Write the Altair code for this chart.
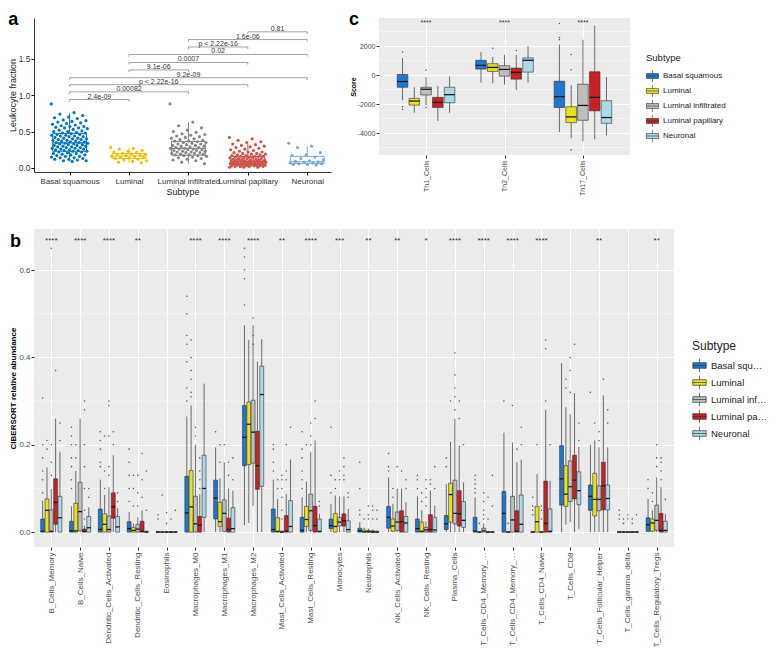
import altair as alt
import pandas as pd

SUBTYPES = ["Basal squamous", "Luminal", "Luminal infiltrated", "Luminal papillary", "Neuronal"]
FILL_COLORS = ["#1F77D0", "#E8E21E", "#BEBEBE", "#C82027", "#ADD8E6"]
JCO_COLORS = ["#0073C2", "#EFC000", "#868686", "#CD534C", "#7AA6DC"]

# ---------------- panel a : leukocyte fraction ----------------
A_LO = [0.09, 0.07, 0.06, 0.01, 0.04]
A_Q1 = [0.23, 0.13, 0.175, 0.05, 0.06]
A_MED = [0.345, 0.165, 0.27, 0.09, 0.085]
A_Q3 = [0.475, 0.20, 0.365, 0.16, 0.16]
A_HI = [0.75, 0.28, 0.63, 0.33, 0.30]

A_PTS_BASAL = [0.88, 0.76, 0.74, 0.72, 0.70, 0.69, 0.68, 0.66, 0.65, 0.64, 0.63, 0.62, 0.61, 0.60,
               0.59, 0.58, 0.57, 0.57, 0.56, 0.55, 0.55, 0.54, 0.53, 0.52, 0.51, 0.50, 0.50, 0.49,
               0.48, 0.48, 0.47, 0.46, 0.46, 0.45, 0.45, 0.44, 0.44, 0.43, 0.43, 0.42, 0.41, 0.41,
               0.40, 0.40, 0.39, 0.39, 0.38, 0.38, 0.37, 0.37, 0.36, 0.36, 0.35, 0.35, 0.34, 0.34,
               0.33, 0.33, 0.32, 0.32, 0.31, 0.31, 0.30, 0.30, 0.29, 0.29, 0.28, 0.28, 0.27, 0.27,
               0.26, 0.26, 0.25, 0.25, 0.24, 0.24, 0.23, 0.23, 0.22, 0.22, 0.21, 0.20, 0.20, 0.19,
               0.18, 0.18, 0.17, 0.16, 0.16, 0.15, 0.14, 0.14, 0.13, 0.12, 0.12, 0.11, 0.10, 0.10, 0.09]
A_PTS_LUMINAL = [0.28, 0.27, 0.26, 0.24, 0.23, 0.22, 0.21, 0.20, 0.19, 0.19, 0.18, 0.18, 0.17,
                 0.16, 0.16, 0.15, 0.15, 0.14, 0.13, 0.12, 0.11, 0.10, 0.09, 0.08, 0.07]
A_PTS_LUM_INF = [0.88, 0.63, 0.58, 0.55, 0.52, 0.50, 0.49, 0.47, 0.46, 0.45, 0.44, 0.43, 0.42, 0.41,
                 0.40, 0.39, 0.38, 0.37, 0.37, 0.36, 0.35, 0.35, 0.34, 0.33, 0.33, 0.32, 0.31, 0.31,
                 0.30, 0.30, 0.29, 0.28, 0.28, 0.27, 0.27, 0.26, 0.26, 0.25, 0.25, 0.24, 0.24, 0.23,
                 0.23, 0.22, 0.22, 0.21, 0.21, 0.20, 0.20, 0.19, 0.19, 0.18, 0.18, 0.17, 0.17, 0.16,
                 0.15, 0.14, 0.13, 0.12, 0.11, 0.10, 0.08, 0.06]
A_PTS_LUM_PAP = [0.42, 0.40, 0.38, 0.36, 0.35, 0.33, 0.32, 0.31, 0.30, 0.29, 0.28, 0.27, 0.26, 0.25,
                 0.24, 0.23, 0.22, 0.22, 0.21, 0.20, 0.20, 0.19, 0.19, 0.18, 0.18, 0.17, 0.17, 0.16,
                 0.16, 0.16, 0.15, 0.15, 0.15, 0.14, 0.14, 0.14, 0.13, 0.13, 0.13, 0.12, 0.12, 0.12,
                 0.11, 0.11, 0.11, 0.11, 0.10, 0.10, 0.10, 0.10, 0.09, 0.09, 0.09, 0.09, 0.09, 0.08,
                 0.08, 0.08, 0.08, 0.07, 0.07, 0.07, 0.07, 0.07, 0.06, 0.06, 0.06, 0.06, 0.06, 0.05,
                 0.05, 0.05, 0.05, 0.05, 0.04, 0.04, 0.04, 0.04, 0.04, 0.03, 0.03, 0.03, 0.03, 0.02,
                 0.02, 0.02, 0.02, 0.01, 0.01, 0.01]
A_PTS_NEURONAL = [0.34, 0.30, 0.28, 0.21, 0.18, 0.17, 0.15, 0.13, 0.11, 0.10, 0.09, 0.085, 0.08,
                  0.07, 0.07, 0.06, 0.06, 0.05, 0.05, 0.04]

A_PAIR_FROM = [0, 0, 0, 0, 1, 1, 1, 2, 2, 3]
A_PAIR_TO = [1, 2, 3, 4, 2, 3, 4, 3, 4, 4]
A_PAIR_Y = [0.94, 1.046, 1.144, 1.24, 1.347, 1.449, 1.56, 1.662, 1.764, 1.87]
A_PAIR_LABEL = ["2.4e-09", "0.00082", "p < 2.22e-16", "9.2e-09", "9.1e-06", "0.0007", "0.02",
                "p < 2.22e-16", "1.6e-06", "0.81"]

# ---------------- panel b : CIBERSORT ----------------
B_CELLS = ["B_Cells_Memory", "B_Cells_Naive", "Dendritic_Cells_Activated", "Dendritic_Cells_Resting",
           "Eosinophils", "Macrophages_M0", "Macrophages_M1", "Macrophages_M2", "Mast_Cells_Activated",
           "Mast_Cells_Resting", "Monocytes", "Neutrophils", "NK_Cells_Activated", "NK_Cells_Resting",
           "Plasma_Cells", "T_Cells_CD4_Memory_Activated", "T_Cells_CD4_Memory_Resting",
           "T_Cells_CD4_Naive", "T_Cells_CD8", "T_Cells_Follicular_Helper", "T_Cells_gamma_delta",
           "T_Cells_Regulatory_Tregs"]
B_SIG = ["****", "****", "****", "**", "", "****", "****", "****", "**", "****", "***", "**", "**", "*",
         "****", "****", "****", "****", "", "**", "", "**"]

# (lower whisker, q1, median, q3, upper whisker) per cell type
B_BASAL = [(0, 0, 0.002, 0.030, 0.072), (0, 0, 0.003, 0.025, 0.059), (0, 0, 0.006, 0.053, 0.120),
           (0, 0, 0.008, 0.024, 0.046), (0, 0, 0, 0.001, 0.003), (0, 0, 0.044, 0.128, 0.265),
           (0, 0.030, 0.078, 0.119, 0.194), (0.016, 0.152, 0.217, 0.290, 0.474),
           (0, 0, 0.006, 0.053, 0.120), (0, 0, 0.004, 0.034, 0.080), (0, 0.008, 0.015, 0.030, 0.065),
           (0, 0, 0.003, 0.009, 0.023), (0, 0.009, 0.034, 0.059, 0.125), (0, 0, 0.008, 0.030, 0.082),
           (0, 0.006, 0.019, 0.038, 0.110), (0, 0, 0.002, 0.034, 0.080), (0, 0, 0.043, 0.093, 0.228),
           (0, 0, 0, 0.001, 0.002), (0, 0.062, 0.122, 0.198, 0.387), (0, 0.050, 0.082, 0.108, 0.200),
           (0, 0, 0, 0.001, 0.002), (0, 0.002, 0.017, 0.033, 0.076)]
B_LUMINAL = [(0, 0, 0.050, 0.076, 0.148), (0, 0, 0.003, 0.066, 0.140), (0, 0, 0.018, 0.042, 0.085),
             (0, 0, 0.004, 0.011, 0.020), (0, 0, 0, 0.001, 0.002), (0, 0, 0.058, 0.141, 0.290),
             (0, 0.013, 0.024, 0.068, 0.123), (0.021, 0.155, 0.247, 0.298, 0.440),
             (0, 0, 0.002, 0.033, 0.076), (0, 0.013, 0.029, 0.059, 0.116), (0, 0, 0.013, 0.043, 0.084),
             (0, 0, 0.001, 0.005, 0.010), (0, 0.002, 0.014, 0.030, 0.065), (0, 0, 0.002, 0.023, 0.050),
             (0, 0.023, 0.086, 0.112, 0.207), (0, 0, 0, 0.001, 0.002), (0, 0, 0, 0.001, 0.002),
             (0, 0, 0.024, 0.059, 0.133), (0.017, 0.059, 0.087, 0.152, 0.286),
             (0, 0.037, 0.075, 0.135, 0.210), (0, 0, 0, 0.001, 0.002), (0, 0.002, 0.021, 0.030, 0.050)]
B_LUM_INF = [(0, 0, 0.002, 0.051, 0.099), (0, 0.003, 0.047, 0.114, 0.260), (0, 0, 0.006, 0.037, 0.103),
             (0, 0, 0.007, 0.018, 0.034), (0, 0, 0, 0.001, 0.003), (0, 0, 0.019, 0.082, 0.200),
             (0, 0.002, 0.043, 0.074, 0.160), (0.060, 0.158, 0.229, 0.302, 0.474),
             (0, 0, 0, 0.002, 0.005), (0, 0.004, 0.049, 0.087, 0.183), (0, 0.014, 0.023, 0.034, 0.082),
             (0, 0, 0.001, 0.004, 0.008), (0, 0.004, 0.023, 0.046, 0.100), (0, 0, 0.005, 0.011, 0.025),
             (0, 0.019, 0.043, 0.119, 0.260), (0, 0, 0.003, 0.009, 0.020), (0, 0, 0.028, 0.082, 0.205),
             (0, 0, 0, 0.001, 0.002), (0.023, 0.070, 0.104, 0.163, 0.270),
             (0, 0.049, 0.075, 0.106, 0.194), (0, 0, 0, 0.001, 0.002), (0, 0.004, 0.027, 0.062, 0.125)]
B_LUM_PAP = [(0, 0.018, 0.068, 0.122, 0.260), (0, 0, 0.002, 0.007, 0.015), (0, 0.032, 0.058, 0.090, 0.176),
             (0, 0, 0.002, 0.025, 0.050), (0, 0, 0, 0.001, 0.002), (0, 0, 0.016, 0.036, 0.087),
             (0, 0, 0.006, 0.032, 0.100), (0, 0.098, 0.152, 0.231, 0.390),
             (0, 0, 0.002, 0.038, 0.087), (0, 0, 0.015, 0.059, 0.210), (0, 0.014, 0.026, 0.042, 0.082),
             (0, 0, 0, 0.003, 0.006), (0, 0, 0.024, 0.049, 0.100), (0, 0, 0.006, 0.040, 0.095),
             (0, 0.014, 0.042, 0.095, 0.198), (0, 0, 0, 0.001, 0.002), (0, 0, 0.002, 0.049, 0.160),
             (0, 0, 0.020, 0.117, 0.280), (0, 0.076, 0.119, 0.176, 0.318),
             (0, 0.051, 0.106, 0.160, 0.313), (0, 0, 0, 0.001, 0.002), (0, 0, 0.004, 0.043, 0.103)]
B_NEURONAL = [(0, 0, 0.033, 0.082, 0.184), (0, 0, 0.010, 0.036, 0.057), (0, 0, 0.012, 0.036, 0.055),
              (0, 0, 0, 0.002, 0.004), (0, 0, 0, 0.001, 0.002), (0, 0.034, 0.100, 0.176, 0.340),
              (0, 0, 0.008, 0.056, 0.095), (0, 0.105, 0.315, 0.380, 0.442),
              (0, 0, 0.013, 0.072, 0.166), (0, 0, 0.002, 0.030, 0.042), (0, 0, 0.006, 0.026, 0.053),
              (0, 0, 0, 0.002, 0.004), (0, 0, 0.021, 0.036, 0.068), (0, 0, 0.005, 0.034, 0.061),
              (0, 0.011, 0.027, 0.070, 0.114), (0, 0, 0, 0.001, 0.002), (0, 0, 0.018, 0.085, 0.166),
              (0, 0, 0.002, 0.053, 0.118), (0.007, 0.063, 0.095, 0.138, 0.195),
              (0, 0.051, 0.077, 0.108, 0.194), (0, 0, 0, 0.001, 0.002), (0, 0, 0.004, 0.025, 0.042)]

# outliers: (cell index, subtype index, value)
B_OUTLIERS = [
    (0, 0, 0.307), (0, 0, 0.20), (0, 0, 0.17), (0, 0, 0.14), (0, 0, 0.12), (0, 0, 0.09),
    (0, 1, 0.21), (0, 1, 0.19), (0, 2, 0.65), (0, 2, 0.20), (0, 2, 0.16), (0, 2, 0.13),
    (0, 3, 0.37), (0, 4, 0.25), (0, 4, 0.21),
    (1, 0, 0.24), (1, 0, 0.22), (1, 0, 0.20), (1, 0, 0.17), (1, 0, 0.15), (1, 0, 0.12), (1, 0, 0.10),
    (1, 1, 0.20), (1, 1, 0.17), (1, 3, 0.30), (1, 3, 0.28), (1, 3, 0.20), (1, 3, 0.15), (1, 3, 0.10),
    (1, 3, 0.05), (1, 3, 0.03), (1, 4, 0.10), (1, 4, 0.08),
    (2, 0, 0.23), (2, 0, 0.21), (2, 0, 0.19), (2, 0, 0.16), (2, 0, 0.15), (2, 1, 0.22), (2, 1, 0.14),
    (2, 1, 0.10), (2, 2, 0.30), (2, 2, 0.29), (2, 2, 0.22), (2, 2, 0.15), (2, 2, 0.13),
    (2, 3, 0.23), (2, 3, 0.20), (2, 4, 0.09), (2, 4, 0.07),
    (3, 0, 0.19), (3, 0, 0.16), (3, 0, 0.13), (3, 0, 0.10), (3, 0, 0.07), (3, 1, 0.13), (3, 1, 0.10),
    (3, 1, 0.06), (3, 2, 0.13), (3, 2, 0.09), (3, 2, 0.06), (3, 3, 0.18), (3, 3, 0.12), (3, 3, 0.08),
    (3, 4, 0.14), (3, 4, 0.05),
    (4, 0, 0.04), (4, 0, 0.03), (4, 1, 0.085), (4, 2, 0.045), (4, 2, 0.02), (4, 3, 0.03), (4, 4, 0.05),
    (5, 0, 0.54), (5, 0, 0.50), (5, 0, 0.45), (5, 0, 0.43), (5, 0, 0.39), (5, 0, 0.33), (5, 0, 0.30),
    (5, 1, 0.44), (5, 1, 0.40), (5, 1, 0.37), (5, 1, 0.35), (5, 1, 0.32), (5, 1, 0.31),
    (5, 2, 0.24), (5, 2, 0.22), (5, 3, 0.17), (5, 3, 0.14), (5, 3, 0.12), (5, 3, 0.10),
    (6, 0, 0.23), (6, 1, 0.20), (6, 1, 0.16), (6, 2, 0.20), (6, 3, 0.16), (6, 3, 0.13), (6, 4, 0.17),
    (6, 4, 0.12),
    (7, 0, 0.65), (7, 0, 0.63), (7, 0, 0.60), (7, 0, 0.58), (7, 0, 0.52), (7, 2, 0.49), (7, 2, 0.45),
    (7, 2, 0.43),
    (8, 0, 0.20), (8, 0, 0.19), (8, 0, 0.16), (8, 0, 0.14), (8, 1, 0.12), (8, 1, 0.10), (8, 2, 0.13),
    (8, 2, 0.12), (8, 2, 0.10), (8, 2, 0.08), (8, 2, 0.05), (8, 2, 0.03), (8, 3, 0.20), (8, 3, 0.14),
    (8, 3, 0.12), (8, 4, 0.24),
    (9, 0, 0.23), (9, 0, 0.19), (9, 0, 0.17), (9, 0, 0.14), (9, 0, 0.12), (9, 0, 0.10), (9, 1, 0.20),
    (9, 2, 0.25), (9, 2, 0.22), (9, 2, 0.20), (9, 3, 0.30), (9, 3, 0.26), (9, 4, 0.07), (9, 4, 0.06),
    (10, 0, 0.24), (10, 0, 0.13), (10, 0, 0.09), (10, 1, 0.12), (10, 1, 0.10), (10, 2, 0.14),
    (10, 2, 0.12), (10, 3, 0.17), (10, 3, 0.15), (10, 3, 0.13), (10, 3, 0.12), (10, 4, 0.09),
    (10, 4, 0.08),
    (11, 0, 0.16), (11, 0, 0.10), (11, 0, 0.05), (11, 0, 0.04), (11, 1, 0.03), (11, 2, 0.06),
    (11, 2, 0.04), (11, 2, 0.03), (11, 3, 0.06), (11, 3, 0.05), (11, 3, 0.03), (11, 4, 0.05),
    (11, 4, 0.03),
    (12, 0, 0.18), (12, 0, 0.15), (12, 0, 0.14), (12, 1, 0.10), (12, 1, 0.08), (12, 2, 0.15),
    (12, 3, 0.14), (12, 4, 0.12), (12, 4, 0.10),
    (13, 0, 0.13), (13, 0, 0.12), (13, 0, 0.10), (13, 1, 0.09), (13, 1, 0.07), (13, 2, 0.12),
    (13, 2, 0.10), (13, 2, 0.08), (13, 2, 0.06), (13, 3, 0.12), (13, 3, 0.11), (13, 4, 0.15),
    (13, 4, 0.10),
    (14, 0, 0.17), (14, 0, 0.15), (14, 1, 0.30), (14, 2, 0.41), (14, 2, 0.36), (14, 2, 0.33),
    (14, 2, 0.31), (14, 2, 0.28), (14, 3, 0.30), (14, 3, 0.26), (14, 4, 0.20),
    (15, 0, 0.13), (15, 0, 0.12), (15, 0, 0.11), (15, 0, 0.10), (15, 0, 0.09), (15, 1, 0.02),
    (15, 2, 0.09), (15, 2, 0.07), (15, 2, 0.05), (15, 2, 0.04), (15, 2, 0.03), (15, 3, 0.08),
    (15, 3, 0.03), (15, 4, 0.13), (15, 4, 0.06),
    (16, 0, 0.30), (16, 1, 0.02), (16, 2, 0.29), (16, 3, 0.19), (16, 4, 0.24), (16, 4, 0.20),
    (17, 0, 0.08), (17, 0, 0.06), (17, 0, 0.05), (17, 0, 0.04), (17, 1, 0.20), (17, 2, 0.06),
    (17, 2, 0.05), (17, 2, 0.03), (17, 3, 0.44), (17, 3, 0.42), (17, 3, 0.30), (17, 4, 0.20),
    (18, 1, 0.35), (18, 1, 0.33), (18, 2, 0.40), (18, 2, 0.37), (18, 2, 0.32), (18, 3, 0.43),
    (18, 4, 0.25), (18, 4, 0.21),
    (19, 0, 0.32), (19, 1, 0.25), (19, 2, 0.23), (19, 2, 0.21), (19, 3, 0.35), (19, 4, 0.28),
    (19, 4, 0.25),
    (20, 0, 0.05), (20, 0, 0.04), (20, 0, 0.03), (20, 1, 0.03), (20, 1, 0.02), (20, 2, 0.04),
    (20, 2, 0.03), (20, 3, 0.03), (20, 3, 0.02), (20, 4, 0.04),
    (21, 0, 0.12), (21, 0, 0.10), (21, 1, 0.09), (21, 1, 0.07), (21, 2, 0.20), (21, 2, 0.17),
    (21, 2, 0.15), (21, 3, 0.17), (21, 3, 0.16), (21, 3, 0.14), (21, 3, 0.12), (21, 4, 0.075),
]

# ---------------- panel c : Th scores ----------------
C_CELLS = ["Th1_Cells", "Th2_Cells", "Th17_Cells"]
C_SIG = ["****", "****", "****"]
C_BASAL = [(-1720, -837, -442, 47, 1186), (-512, 419, 675, 1023, 1605), (-3930, -2233, -1488, -419, 2116)]
C_LUMINAL = [(-2600, -2070, -1790, -1605, -837), (-558, 256, 535, 790, 1256), (-4350, -3280, -2884, -2186, -698)]
C_LUM_INF = [(-2070, -1372, -977, -837, -140), (-651, -70, 395, 651, 1395), (-4560, -3117, -2093, -628, 2442)]
C_LUM_PAP = [(-3163, -2233, -1884, -1535, -744), (-1023, -279, 186, 488, 1395), (-4420, -2466, -1535, 233, 3420)]
C_NEURONAL = [(-2605, -1907, -1349, -837, -93), (-512, 209, 1023, 1186, 2000), (-4163, -3326, -2930, -1768, -140)]
C_OUTLIERS = [(0, 0, 1600), (0, 0, -2190), (0, 0, -2370), (0, 2, 350), (0, 2, -2230),
              (1, 1, 1860), (1, 3, 1700),
              (2, 0, 3560), (2, 0, 2600), (2, 0, 2450), (2, 1, 1420), (2, 1, 372), (2, 1, -5160)]

# ---------------- helpers ----------------
BOX_GLYPH = "M-1,-0.42H1V0.42H-1Z M-1,0H1 M0,-0.42V-1 M0,0.42V1"
FONT = "Liberation Sans"


def label_expr(names):
    return "[" + ",".join("'" + n + "'" for n in names) + "][datum.value]"


def stats_frame(groups):
    rows = []
    for gi, stats in enumerate(groups):
        for ci, s in enumerate(stats):
            rows.append({"ci": ci, "gi": gi, "subtype": SUBTYPES[gi], "lo": s[0], "q1": s[1],
                         "med": s[2], "q3": s[3], "hi": s[4]})
    return pd.DataFrame(rows)


def box_panel(stats_df, out_list, cats, sig, sig_y, ydom, yvals, ylabel_expr, yformat, minor,
              width, height, ytitle, fs, legend, xlabel_limit):
    n = len(cats)
    xs = alt.Scale(domain=[-0.6, n - 0.4], nice=False, zero=False)
    ys = alt.Scale(domain=ydom, nice=False, zero=False)
    xaxis = alt.Axis(values=list(range(n)), labelExpr=label_expr(cats), labelAngle=270,
                     labelFontSize=fs, labelColor="#4D4D4D", labelLimit=xlabel_limit, labelPadding=2,
                     labelOverlap=False, labelFlush=False, tickColor="#333333", tickSize=3,
                     domain=False, grid=True, gridColor="white", gridWidth=1, title=None)
    yaxis_kw = dict(values=yvals, labelFontSize=fs, labelColor="#4D4D4D", tickColor="#333333",
                    tickSize=3, domain=False, grid=True, gridColor="white", gridWidth=1,
                    title=ytitle, titleFontSize=fs, titleFontWeight="bold", titleColor="black",
                    titlePadding=1, labelPadding=1, labelFlush=False)
    if ylabel_expr:
        yaxis_kw["labelExpr"] = ylabel_expr
    if yformat:
        yaxis_kw["format"] = yformat
    yaxis = alt.Axis(**yaxis_kw)

    xcalc = dict(xc="datum.ci + (datum.gi - 2) * 0.15",
                 x0="datum.ci + (datum.gi - 2) * 0.15 - 0.0675",
                 x1="datum.ci + (datum.gi - 2) * 0.15 + 0.0675")

    minor_layer = alt.Chart(pd.DataFrame({"v": minor})).mark_rule(
        color="white", strokeWidth=0.5).encode(y=alt.Y("v:Q", scale=ys, axis=yaxis))
    base = alt.Chart(stats_df).transform_calculate(**xcalc)
    whisk = base.mark_rule(color="#333333", strokeWidth=0.7).encode(
        x=alt.X("xc:Q", scale=xs, axis=xaxis), y=alt.Y("lo:Q", scale=ys, axis=yaxis), y2="hi:Q")
    boxes = base.mark_bar(stroke="#333333", strokeWidth=0.6).encode(
        x=alt.X("x0:Q", scale=xs, axis=xaxis), x2="x1:Q",
        y=alt.Y("q1:Q", scale=ys, axis=yaxis), y2="q3:Q",
        fill=alt.Fill("subtype:N", scale=alt.Scale(domain=SUBTYPES, range=FILL_COLORS),
                      legend=legend))
    meds = base.mark_rule(color="#1A1A1A", strokeWidth=1.3).encode(
        x=alt.X("x0:Q", scale=xs, axis=xaxis), x2="x1:Q", y=alt.Y("med:Q", scale=ys, axis=yaxis))
    out_df = pd.DataFrame(out_list, columns=["ci", "gi", "v"])
    outs = alt.Chart(out_df).transform_calculate(**xcalc).mark_circle(
        size=2.5, color="#444444", opacity=0.85).encode(
        x=alt.X("xc:Q", scale=xs, axis=xaxis), y=alt.Y("v:Q", scale=ys, axis=yaxis))
    sig_df = pd.DataFrame({"ci": list(range(n)), "lab": sig, "y": [sig_y] * n})
    sigs = alt.Chart(sig_df).mark_text(fontSize=fs, color="#333333", baseline="middle").encode(
        x=alt.X("ci:Q", scale=xs, axis=xaxis), y=alt.Y("y:Q", scale=ys, axis=yaxis), text="lab:N")
    return alt.layer(minor_layer, whisk, boxes, meds, outs, sigs).properties(
        width=width, height=height,
        view=alt.ViewBackground(fill="#EBEBEB", stroke=None))


# ---------------- build panel a ----------------
A_W, A_H = 297, 154
ax_scale = alt.Scale(domain=[-0.6, 4.4], nice=False, zero=False)
ay_scale = alt.Scale(domain=[-0.055, 2.06], nice=False, zero=False)
a_xaxis = alt.Axis(values=[0, 1, 2, 3, 4], labelExpr=label_expr(SUBTYPES), labelAngle=0,
                   labelFontSize=8, labelColor="#333333", labelOverlap=False, labelFlush=False,
                   domainColor="black", domainWidth=0.8, tickColor="black", tickSize=3, grid=False,
                   title="Subtype", titleFontSize=9, titleFontWeight="normal", titleColor="#222222",
                   titlePadding=2, labelPadding=2)
a_yaxis = alt.Axis(values=[0, 0.5, 1.0, 1.5], format=".1f", labelFontSize=8.5, labelColor="#333333",
                   domainColor="black", domainWidth=0.8, tickColor="black", tickSize=3, grid=False,
                   title="Leukocyte fraction", titleFontSize=9, titleFontWeight="normal",
                   titleColor="#222222", titlePadding=1, labelPadding=1, labelFlush=False)

a_box_df = pd.DataFrame({"g": list(range(5)), "lo": A_LO, "q1": A_Q1, "med": A_MED, "q3": A_Q3,
                         "hi": A_HI, "col": JCO_COLORS})
a_rows = []
for gi, pts in enumerate([A_PTS_BASAL, A_PTS_LUMINAL, A_PTS_LUM_INF, A_PTS_LUM_PAP, A_PTS_NEURONAL]):
    for k, v in enumerate(pts):
        a_rows.append({"g": gi, "k": k, "v": v, "col": JCO_COLORS[gi]})
a_pts_df = pd.DataFrame(a_rows)
a_br_df = pd.DataFrame({"x1": A_PAIR_FROM, "x2": A_PAIR_TO, "y": A_PAIR_Y, "label": A_PAIR_LABEL})

a_base = alt.Chart(a_box_df).transform_calculate(x0="datum.g - 0.285", x1="datum.g + 0.285")
a_whisk = a_base.mark_rule(strokeWidth=1).encode(
    x=alt.X("g:Q", scale=ax_scale, axis=a_xaxis), y=alt.Y("lo:Q", scale=ay_scale, axis=a_yaxis),
    y2="hi:Q", color=alt.Color("col:N", scale=None))
a_boxes = a_base.mark_bar(fill="white", strokeWidth=1).encode(
    x=alt.X("x0:Q", scale=ax_scale, axis=a_xaxis), x2="x1:Q",
    y=alt.Y("q1:Q", scale=ay_scale, axis=a_yaxis), y2="q3:Q", stroke=alt.Stroke("col:N", scale=None))
a_meds = a_base.mark_rule(strokeWidth=1.1).encode(
    x=alt.X("x0:Q", scale=ax_scale, axis=a_xaxis), x2="x1:Q",
    y=alt.Y("med:Q", scale=ay_scale, axis=a_yaxis), color=alt.Color("col:N", scale=None))
a_points = alt.Chart(a_pts_df).transform_calculate(
    xj="datum.g + ((datum.k * 0.618034) % 1 - 0.5) * 0.62").mark_circle(size=10, opacity=1).encode(
    x=alt.X("xj:Q", scale=ax_scale, axis=a_xaxis), y=alt.Y("v:Q", scale=ay_scale, axis=a_yaxis),
    color=alt.Color("col:N", scale=None))
a_br_base = alt.Chart(a_br_df).transform_calculate(xm="(datum.x1 + datum.x2) / 2",
                                                    yend="datum.y - 0.03")
a_br_h = a_br_base.mark_rule(color="#8C8C8C", strokeWidth=0.8).encode(
    x=alt.X("x1:Q", scale=ax_scale, axis=a_xaxis), x2="x2:Q",
    y=alt.Y("y:Q", scale=ay_scale, axis=a_yaxis))
a_br_l = a_br_base.mark_rule(color="#8C8C8C", strokeWidth=0.8).encode(
    x=alt.X("x1:Q", scale=ax_scale, axis=a_xaxis), y=alt.Y("y:Q", scale=ay_scale, axis=a_yaxis),
    y2="yend:Q")
a_br_r = a_br_base.mark_rule(color="#8C8C8C", strokeWidth=0.8).encode(
    x=alt.X("x2:Q", scale=ax_scale, axis=a_xaxis), y=alt.Y("y:Q", scale=ay_scale, axis=a_yaxis),
    y2="yend:Q")
a_br_t = a_br_base.mark_text(fontSize=7, color="#333333", baseline="bottom", dy=0).encode(
    x=alt.X("xm:Q", scale=ax_scale, axis=a_xaxis), y=alt.Y("y:Q", scale=ay_scale, axis=a_yaxis),
    text="label:N")

panel_a = alt.layer(a_whisk, a_boxes, a_meds, a_points, a_br_h, a_br_l, a_br_r, a_br_t).properties(
    width=A_W, height=A_H, view=alt.ViewBackground(stroke=None),
    title=alt.TitleParams("a", anchor="start", fontSize=18, fontWeight="bold", color="black",
                          offset=-11))

# ---------------- build panel c ----------------
C_W, C_H = 251, 137
c_legend = alt.Legend(title="Subtype", orient="none", legendX=C_W + 16, legendY=35,
                      symbolType=BOX_GLYPH, symbolSize=148, symbolStrokeColor="#333333",
                      symbolStrokeWidth=0.6, labelFontSize=8, labelColor="#222222",
                      titleFontSize=9.5, titleFontWeight="normal", titleColor="#222222",
                      rowPadding=0, titlePadding=7, labelLimit=90)
panel_c = box_panel(stats_frame([C_BASAL, C_LUMINAL, C_LUM_INF, C_LUM_PAP, C_NEURONAL]), C_OUTLIERS,
                    C_CELLS, C_SIG, 3600, [-5515, 3945], [-4000, -2000, 0, 2000],
                    "toString(datum.value)", None, [-5000, -3000, -1000, 1000, 3000],
                    C_W, C_H, "Score", 7, c_legend, 100).properties(
    title=alt.TitleParams("c", anchor="start", fontSize=18, fontWeight="bold", color="black",
                          offset=-11))

# ---------------- build panel b ----------------
B_W, B_H = 640, 318
b_legend = alt.Legend(title="Subtype", orient="none", legendX=B_W + 18, legendY=112,
                      symbolType=BOX_GLYPH, symbolSize=180, symbolStrokeColor="#333333",
                      symbolStrokeWidth=0.7, labelFontSize=9.5, labelColor="#222222",
                      titleFontSize=12, titleFontWeight="normal", titleColor="#222222",
                      rowPadding=0, titlePadding=5, labelLimit=56)
panel_b = box_panel(stats_frame([B_BASAL, B_LUMINAL, B_LUM_INF, B_LUM_PAP, B_NEURONAL]), B_OUTLIERS,
                    B_CELLS, B_SIG, 0.667, [-0.034, 0.694], [0, 0.2, 0.4, 0.6], None, ".1f",
                    [0.1, 0.3, 0.5], B_W, B_H, "CIBERSORT relative abundance", 8, b_legend,
                    96).properties(
    title=alt.TitleParams("b", anchor="start", fontSize=18, fontWeight="bold", color="black",
                          offset=-22))

top = alt.hconcat(panel_a, panel_c, spacing=18).resolve_scale(
    x="independent", y="independent", fill="independent").resolve_legend(fill="independent")
chart = alt.vconcat(top, panel_b, spacing=33).resolve_scale(
    x="independent", y="independent", fill="independent").resolve_legend(
    fill="independent").properties(padding={"left": 0, "top": 3, "right": 0, "bottom": 0}).configure(
    font=FONT, background="white")

chart.save("out.html", embed_options={"renderer": "svg", "actions": False})
